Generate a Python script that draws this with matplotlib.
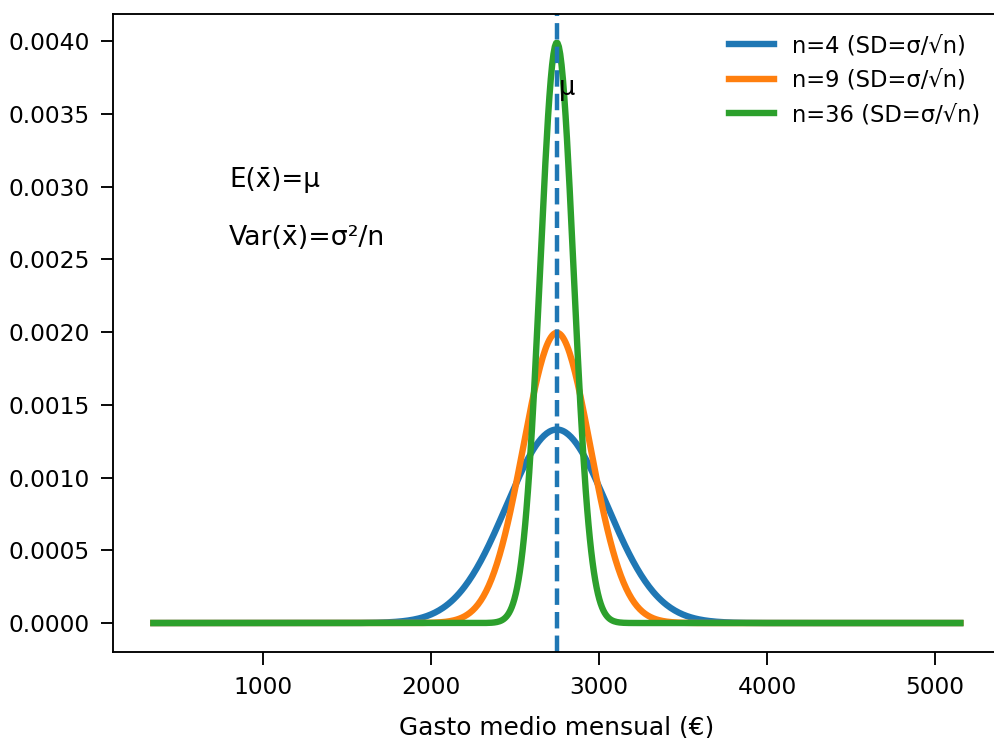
import numpy as np
import matplotlib
matplotlib.use("Agg")
import matplotlib.pyplot as plt

plt.rcParams['font.size'] = 16.8
plt.rcParams['axes.linewidth'] = 1.35
for a in ('xtick', 'ytick'):
    plt.rcParams[f'{a}.major.size'] = 9
    plt.rcParams[f'{a}.major.width'] = 1.35
    plt.rcParams[f'{a}.major.pad'] = 8

# parameters
mu = 2750
sigma = 600
sample_sizes = [4, 9, 36]
x_min, x_max = 350, 5150

fig = plt.figure(figsize=(9.94, 7.38), dpi=100)
ax = fig.add_axes([0.1137, 0.1165, 0.8930, 0.8645])

x = np.linspace(x_min, x_max, 600)
for n in sample_sizes:
    sd = sigma / np.sqrt(n)
    pdf = np.exp(-0.5 * ((x - mu) / sd) ** 2) / (sd * np.sqrt(2 * np.pi))
    ax.plot(x, pdf, lw=4.6, label=f"n={n} (SD=σ/√n)")

ax.axvline(mu, ls="--", lw=3.2)
ax.text(mu + 15, 0.00368, "μ", va="center", fontsize=18.5)
ax.text(800, 0.0030, "E(x̄)=μ", fontsize=18.8)
ax.text(800, 0.0026, "Var(x̄)=σ²/n", fontsize=19.3)

ax.set_xlabel("Gasto medio mensual (€)", fontsize=17.9, labelpad=12)
ax.legend(loc="upper right", frameon=False, fontsize=16.3)
ax.spines['right'].set_visible(False)

fig.savefig("out.png", dpi=100)
